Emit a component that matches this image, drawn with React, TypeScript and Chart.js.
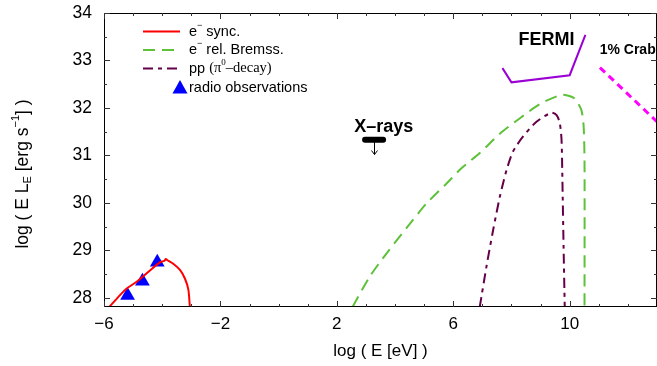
import React, { useEffect, useRef } from 'react';
import { Chart, registerables } from 'chart.js';

Chart.register(...registerables);

const SANS = "'Liberation Sans', Arial, Helvetica, sans-serif";
const SERIF = "'Liberation Serif', 'Times New Roman', serif";

// Axis ranges and tick labels
const X_MIN = -6;
const X_MAX = 13;
const Y_MIN = 27.81;
const Y_MAX = 34;
const xTickLabels = [-6, -2, 2, 6, 10];
const yTickLabels = [28, 29, 30, 31, 32, 33, 34];

// e- synchrotron
const syncX = [-5.82, -5.45, -5.22, -4.88, -4.42, -4.08, -3.93, -3.88, -3.83, -3.62, -3.39, -3.22, -3.1, -3.05];
const syncY = [27.81, 28.06, 28.2, 28.34, 28.58, 28.75, 28.78, 28.82, 28.8, 28.72, 28.59, 28.41, 28.17, 27.81];

// e- relativistic Bremsstrahlung
const bremX = [2.54, 3.13, 3.71, 4.39, 5.08, 5.77, 6.28, 6.91, 7.6, 8.28, 8.97, 9.66, 9.89, 10.17, 10.4, 10.48, 10.51, 10.51];
const bremY = [27.81, 28.45, 28.94, 29.47, 29.99, 30.41, 30.73, 31.05, 31.46, 31.78, 32.08, 32.27, 32.27, 32.2, 31.96, 31.61, 30.84, 27.81];

// pp (pi0 decay)
const ppX = [6.91, 7.14, 7.37, 7.6, 7.83, 8.05, 8.4, 8.86, 9.37, 9.55, 9.66, 9.72, 9.75, 9.79, 9.83];
const ppY = [27.81, 28.66, 29.43, 30.13, 30.69, 31.08, 31.4, 31.71, 31.9, 31.85, 31.68, 31.33, 30.48, 29.08, 27.81];

// FERMI sensitivity
const fermiX = [7.69, 8.0, 10.0, 10.54];
const fermiY = [32.84, 32.54, 32.69, 33.54];

// 1% Crab
const crabX = [11.04, 13.0];
const crabY = [32.85, 31.71];

// radio observations
const radioX = [-5.19, -4.68, -4.17];
const radioY = [28.05, 28.35, 28.75];

// X-ray upper limit
const xrayX = [2.97, 3.59];
const xrayY = [31.33, 31.33];
const xrayArrowX = 3.27;
const xrayArrowTo = 31.02;

// text labels (data coordinates)
const labelTexts = ['X\u2013rays', 'FERMI', '1% Crab'];
const labelX = [3.61, 9.2, 11.03];
const labelY = [31.59, 33.43, 33.22];

const COLORS = {
  sync: '#ff0000',
  brem: '#5ec13a',
  pp: '#650048',
  fermi: '#9a00d4',
  crab: '#ff00ff',
  radio: '#0000ff',
};

const pts = (xs: number[], ys: number[]) => xs.map((x, i) => ({ x, y: ys[i] }));

const decorPlugin = {
  id: 'decor',
  afterDatasetsDraw(chart: any) {
    const { ctx, chartArea: a, scales } = chart;
    const xs = scales.x;
    const ys = scales.y;
    ctx.save();
    // frame
    ctx.strokeStyle = '#000';
    ctx.lineWidth = 1;
    ctx.strokeRect(a.left + 0.5, a.top + 0.5, a.right - a.left - 1, a.bottom - a.top - 1);
    // ticks
    ctx.strokeStyle = '#333';
    ctx.beginPath();
    for (let v = X_MIN; v <= X_MAX; v += 1) {
      const px = Math.round(xs.getPixelForValue(v)) + 0.5;
      const len = xTickLabels.includes(v) ? 6 : 3;
      ctx.moveTo(px, a.bottom);
      ctx.lineTo(px, a.bottom - len);
      ctx.moveTo(px, a.top);
      ctx.lineTo(px, a.top + len);
    }
    for (let v = 28; v <= Y_MAX; v += 0.5) {
      const py = Math.round(ys.getPixelForValue(v)) + 0.5;
      const len = Number.isInteger(v) ? 6 : 3;
      ctx.moveTo(a.left, py);
      ctx.lineTo(a.left + len, py);
      ctx.moveTo(a.right, py);
      ctx.lineTo(a.right - len, py);
    }
    ctx.stroke();

    // X-ray arrow
    const ax = Math.round(xs.getPixelForValue(xrayArrowX)) + 0.5;
    const ay0 = ys.getPixelForValue(xrayY[0]);
    const ay1 = ys.getPixelForValue(xrayArrowTo);
    ctx.strokeStyle = '#000';
    ctx.lineWidth = 1;
    ctx.beginPath();
    ctx.moveTo(ax, ay0);
    ctx.lineTo(ax, ay1);
    ctx.moveTo(ax - 3, ay1 - 4);
    ctx.lineTo(ax, ay1);
    ctx.lineTo(ax + 3, ay1 - 4);
    ctx.stroke();

    // annotation labels
    ctx.fillStyle = '#000';
    ctx.textBaseline = 'middle';
    ctx.font = `bold 18px ${SANS}`;
    ctx.textAlign = 'center';
    ctx.fillText(labelTexts[0], xs.getPixelForValue(labelX[0]), ys.getPixelForValue(labelY[0]));
    ctx.fillText(labelTexts[1], xs.getPixelForValue(labelX[1]), ys.getPixelForValue(labelY[1]));
    ctx.font = `bold 14px ${SANS}`;
    ctx.textAlign = 'left';
    ctx.fillText(labelTexts[2], xs.getPixelForValue(labelX[2]), ys.getPixelForValue(labelY[2]));

    // legend
    const lx0 = 143;
    const lx1 = 180;
    const tx = 189;
    const rows = [31.5, 50, 68.5, 87.5];
    const drawSample = (y: number, color: string, dash: number[]) => {
      ctx.save();
      ctx.strokeStyle = color;
      ctx.lineWidth = 2;
      ctx.setLineDash(dash);
      ctx.beginPath();
      ctx.moveTo(lx0, y);
      ctx.lineTo(lx1, y);
      ctx.stroke();
      ctx.restore();
    };
    drawSample(rows[0], COLORS.sync, []);
    drawSample(rows[1], COLORS.brem, [12, 7]);
    drawSample(rows[2], COLORS.pp, [10, 5, 4, 5]);
    // triangle
    ctx.fillStyle = COLORS.radio;
    ctx.beginPath();
    ctx.moveTo(180, rows[3] - 7.5);
    ctx.lineTo(187.5, rows[3] + 6);
    ctx.lineTo(172.5, rows[3] + 6);
    ctx.closePath();
    ctx.fill();

    ctx.fillStyle = '#000';
    ctx.textAlign = 'left';
    ctx.textBaseline = 'middle';
    const drawParts = (x: number, y: number, parts: { t: string; f: string; dy?: number }[]) => {
      let cx = x;
      for (const p of parts) {
        ctx.font = p.f;
        ctx.fillText(p.t, cx, y + (p.dy || 0));
        cx += ctx.measureText(p.t).width;
      }
    };
    const F = `14.5px ${SANS}`;
    const FS = `9px ${SANS}`;
    drawParts(tx, rows[0], [
      { t: 'e', f: F },
      { t: '\u2212', f: FS, dy: -6 },
      { t: ' sync.', f: F },
    ]);
    drawParts(tx, rows[1], [
      { t: 'e', f: F },
      { t: '\u2212', f: FS, dy: -6 },
      { t: ' rel. Bremss.', f: F },
    ]);
    drawParts(tx, rows[2], [
      { t: 'pp ', f: F },
      { t: '(\u03c0', f: `14.5px ${SERIF}` },
      { t: '0', f: `9px ${SERIF}`, dy: -6 },
      { t: '\u2013decay)', f: `14.5px ${SERIF}` },
    ]);
    drawParts(tx, rows[3], [{ t: 'radio observations', f: F }]);

    // y axis title (rotated)
    ctx.save();
    ctx.translate(23, 174);
    ctx.rotate(-Math.PI / 2);
    const TF = `17.5px ${SANS}`;
    const TS = `11px ${SANS}`;
    const yParts = [
      { t: 'log ( E L', f: TF, dy: 0 },
      { t: 'E', f: TS, dy: 5 },
      { t: ' [erg s', f: TF, dy: 0 },
      { t: '\u22121', f: TS, dy: -7 },
      { t: '] )', f: TF, dy: 0 },
    ];
    let total = 0;
    for (const p of yParts) {
      ctx.font = p.f;
      total += ctx.measureText(p.t).width;
    }
    drawParts(-total / 2, 0, yParts);
    ctx.restore();

    ctx.restore();
  },
};

export default function App() {
  const ref = useRef<HTMLCanvasElement | null>(null);

  useEffect(() => {
    if (!ref.current) return;
    Chart.defaults.font.family = SANS;
    Chart.defaults.color = '#000';
    const chart = new Chart(ref.current, {
      type: 'line',
      data: {
        datasets: [
          {
            label: 'e- sync.',
            data: pts(syncX, syncY),
            borderColor: COLORS.sync,
            borderWidth: 2,
            pointRadius: 0,
            tension: 0.25,
          },
          {
            label: 'e- rel. Bremss.',
            data: pts(bremX, bremY),
            borderColor: COLORS.brem,
            borderWidth: 2,
            borderDash: [12, 7],
            pointRadius: 0,
            tension: 0.25,
          },
          {
            label: 'pp (pi0-decay)',
            data: pts(ppX, ppY),
            borderColor: COLORS.pp,
            borderWidth: 2,
            borderDash: [10, 5, 4, 5],
            pointRadius: 0,
            tension: 0.25,
          },
          {
            label: 'FERMI',
            data: pts(fermiX, fermiY),
            borderColor: COLORS.fermi,
            borderWidth: 2,
            pointRadius: 0,
            tension: 0,
          },
          {
            label: '1% Crab',
            data: pts(crabX, crabY),
            borderColor: COLORS.crab,
            borderWidth: 3,
            borderDash: [7, 5],
            pointRadius: 0,
            tension: 0,
          },
          {
            label: 'X-rays',
            data: pts(xrayX, xrayY),
            borderColor: '#000',
            borderWidth: 6,
            borderCapStyle: 'round',
            pointRadius: 0,
            tension: 0,
          },
          {
            label: 'radio observations',
            data: pts(radioX, radioY),
            showLine: false,
            pointStyle: 'triangle',
            pointRadius: 8.5,
            pointBackgroundColor: COLORS.radio,
            pointBorderColor: COLORS.radio,
            pointBorderWidth: 0,
          },
        ],
      },
      options: {
        responsive: false,
        animation: false,
        devicePixelRatio: 1,
        layout: { autoPadding: false, padding: { top: 13, right: 0, left: 0, bottom: 0 } },
        plugins: {
          legend: { display: false },
          tooltip: { enabled: false },
        },
        scales: {
          x: {
            type: 'linear',
            min: X_MIN,
            max: X_MAX,
            grid: { display: false, drawTicks: false },
            border: { display: false },
            afterBuildTicks: (s: any) => {
              s.ticks = xTickLabels.map((v) => ({ value: v }));
            },
            afterFit: (s: any) => {
              s.height = 59;
              s.paddingLeft = 0;
              s.paddingRight = 0;
            },
            ticks: {
              autoSkip: false,
              maxRotation: 0,
              padding: 7,
              font: { size: 17, family: SANS },
              color: '#000',
              callback: (v: any) => String(v).replace('-', '\u2212'),
            },
            title: {
              display: true,
              text: 'log ( E [eV] )',
              font: { size: 17, family: SANS },
              color: '#000',
              padding: { top: 0, bottom: 4 },
            },
          },
          y: {
            type: 'linear',
            min: Y_MIN,
            max: Y_MAX,
            grid: { display: false, drawTicks: false },
            border: { display: false },
            afterBuildTicks: (s: any) => {
              s.ticks = yTickLabels.map((v) => ({ value: v }));
            },
            afterFit: (s: any) => {
              s.width = 104;
              s.paddingTop = 0;
              s.paddingBottom = 0;
            },
            ticks: {
              padding: 12,
              font: { size: 17.5, family: SANS },
              color: '#000',
            },
          },
        },
      },
      plugins: [decorPlugin],
    } as any);
    return () => chart.destroy();
  }, []);

  return (
    <div style={{ position: 'fixed', left: 0, top: 0, width: 657, height: 366, background: '#fff' }}>
      <canvas ref={ref} width={657} height={366} style={{ display: 'block' }} />
    </div>
  );
}
